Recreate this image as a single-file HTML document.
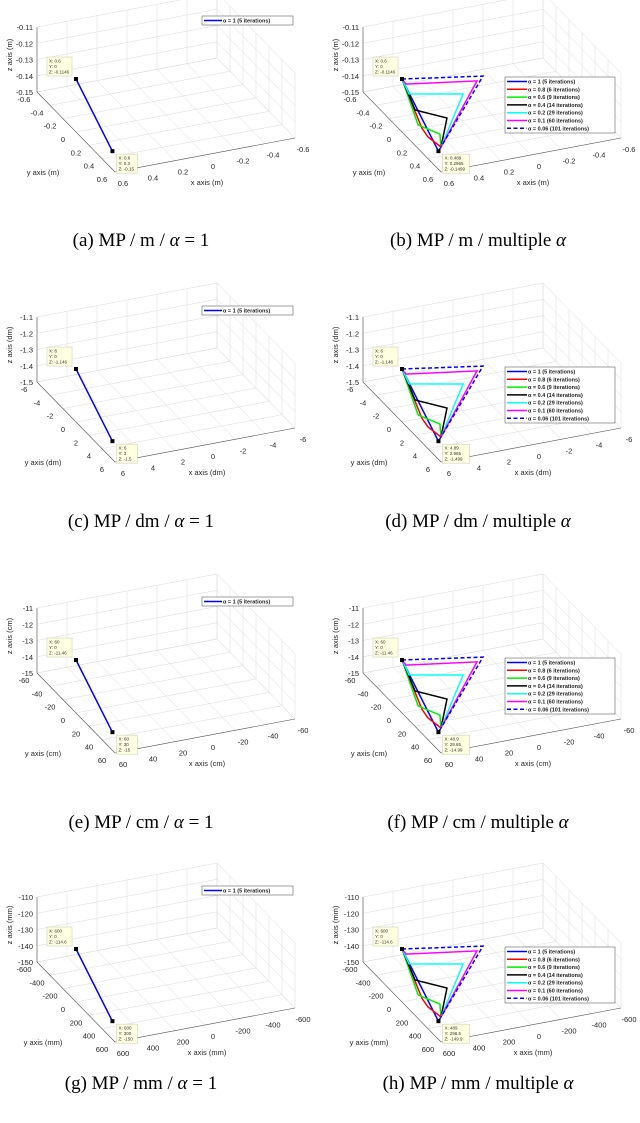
<!DOCTYPE html>
<html><head><meta charset="utf-8">
<style>
html,body{margin:0;padding:0;background:#fff;}
svg{display:block;font-family:"Liberation Sans",sans-serif;}
.cap{font-family:"Liberation Serif",serif;font-size:19px;fill:#000;}
</style></head>
<body>
<svg id="fig" width="640" height="1123" viewBox="0 0 640 1123" xmlns="http://www.w3.org/2000/svg"></svg>
<script>
// ---- data (meters) ----
const units = ["m","m","dm","dm","cm","cm","mm","mm"];
const capPrefix = ["(a) MP / m / ","(b) MP / m / multiple ","(c) MP / dm / ","(d) MP / dm / multiple ","(e) MP / cm / ","(f) MP / cm / multiple ","(g) MP / mm / ","(h) MP / mm / multiple "];
const capSuffix = [" = 1",""," = 1",""," = 1",""," = 1",""];
const multiple = [false,true,false,true,false,true,false,true];
const xTicks = [0.6,0.4,0.2,0,-0.2,-0.4,-0.6];
const yTicks = [-0.6,-0.4,-0.2,0,0.2,0.4,0.6];
const zTicks = [-0.11,-0.12,-0.13,-0.14,-0.15];
const unitScale = {m:1,dm:10,cm:100,mm:1000};
const startPt = [0.6,0,-0.1174];
const endPt = [0.5,0.33,-0.15];
const convPt = [0.483,0.33,-0.1477];
const startTip = {m:["X: 0.6","Y: 0","Z: -0.1146"],dm:["X: 6","Y: 0","Z: -1.146"],cm:["X: 60","Y: 0","Z: -11.46"],mm:["X: 600","Y: 0","Z: -114.6"]};
const endTip1 = {m:["X: 0.6","Y: 0.3","Z: -0.15"],dm:["X: 6","Y: 3","Z: -1.5"],cm:["X: 60","Y: 30","Z: -15"],mm:["X: 600","Y: 300","Z: -150"]};
const endTipM = {m:["X: 0.489","Y: 0.2965","Z: -0.1499"],dm:["X: 4.89","Y: 2.965","Z: -1.499"],cm:["X: 48.9","Y: 29.65","Z: -14.99"],mm:["X: 489","Y: 296.5","Z: -149.9"]};
const seriesNames = ["\u03b1 = 1 (5 iterations)","\u03b1 = 0.8 (6 iterations)","\u03b1 = 0.6 (9 iterations)","\u03b1 = 0.4 (14 iterations)","\u03b1 = 0.2 (29 iterations)","\u03b1 = 0.1 (60 iterations)","\u03b1 = 0.06 (101 iterations)"];
const seriesColors = ["#0000ff","#ff0000","#00ee00","#000000","#00ffff","#ff00ff","#0000ff"];
const sBlue = [startPt,endPt,convPt];
const sRed = [startPt,[0.467,0,-0.15],[0.427,0,-0.156],convPt];
const sGreen = [startPt,[0.493,0,-0.1475],[0.347,0,-0.1557],convPt];
const sBlack = [startPt,[0.513,0,-0.138],[0.3,0,-0.1466],convPt];
const sCyan = [startPt,[0.553,0,-0.1274],[0.193,0,-0.1337],convPt];
const sMagenta = [startPt,[0.573,0,-0.121],[0.1,0,-0.1273],convPt];
const sDashed = [startPt,[0.06,0,-0.125],convPt];
const multiSeries = [sBlue,sRed,sGreen,sBlack,sCyan,sMagenta,sDashed];
const singleSeries = [[startPt,endPt]];
// panel layout
const origins = [[37,92],[363,92],[37,382],[363,382],[37,673],[363,673],[37,962],[363,962]];
const capY = [246,527,828,1089];

const NS="http://www.w3.org/2000/svg";
const svg=document.getElementById('fig');
function mk(tag,attrs,parent){const e=document.createElementNS(NS,tag);for(const k in attrs)e.setAttribute(k,attrs[k]);(parent||svg).appendChild(e);return e;}
function fmt(v,s){let r=Math.round(v*s*1000)/1000;return String(r);}

origins.forEach((o,pi)=>{
  const u=units[pi], sc=unitScale[u];
  const g=mk('g',{});
  
  
  const P=(x,y,z)=>{const a=y+0.6,b=0.6-x,c=z+0.15;return [o[0]+65*a+150*b, o[1]+66.67*a-28.33*b-1625*c];};
  const line=(p,q,st,w,name)=>{const l=mk('line',{x1:p[0],y1:p[1],x2:q[0],y2:q[1],stroke:st,'stroke-width':w},g);return l;};
  const zTop=-0.11;
  const gc='#dadada';
  xTicks.forEach(x=>line(P(x,-0.6,-0.15),P(x,0.6,-0.15),gc,0.5,'grid-line'));
  yTicks.forEach(y=>line(P(0.6,y,-0.15),P(-0.6,y,-0.15),gc,0.5,'grid-line'));
  xTicks.forEach(x=>line(P(x,-0.6,-0.15),P(x,-0.6,zTop),gc,0.5,'grid-line'));
  zTicks.forEach(z=>line(P(0.6,-0.6,z),P(-0.6,-0.6,z),gc,0.5,'grid-line'));
  yTicks.forEach(y=>line(P(-0.6,y,-0.15),P(-0.6,y,zTop),gc,0.5,'grid-line'));
  zTicks.forEach(z=>line(P(-0.6,-0.6,z),P(-0.6,0.6,z),gc,0.5,'grid-line'));
  line(P(0.6,-0.6,-0.15),P(0.6,-0.6,zTop),'#555',0.6,'z-axis');
  line(P(0.6,-0.6,-0.15),P(0.6,0.6,-0.15),'#555',0.6,'y-axis');
  line(P(0.6,0.6,-0.15),P(-0.6,0.6,-0.15),'#555',0.6,'x-axis');
  const txt=(s,x,y,attrs,name)=>{const t=mk('text',Object.assign({x:x,y:y,'font-size':7.5,fill:'#262626'},attrs||{}),g);t.textContent=s;return t;};
  zTicks.forEach(z=>{const p=P(0.6,-0.6,z);txt(fmt(z,sc),p[0]-4,p[1]+3,{'text-anchor':'end'},'z-tick-label');});
  yTicks.forEach(y=>{const p=P(0.6,y,-0.15);txt(fmt(y,sc),p[0]-13,p[1]+10,{'text-anchor':'middle'},'y-tick-label');});
  xTicks.forEach(x=>{const p=P(x,0.6,-0.15);txt(fmt(x,sc),p[0]+8,p[1]+14,{'text-anchor':'middle'},'x-tick-label');});
  txt('z axis ('+u+')',0,0,{'text-anchor':'middle',transform:'translate('+(o[0]-25)+','+(o[1]-37)+') rotate(-90)'},'z-axis-title');
  txt('y axis ('+u+')',o[0]+6,o[1]+83,{'text-anchor':'middle'},'y-axis-title');
  txt('x axis ('+u+')',o[0]+170,o[1]+93,{'text-anchor':'middle'},'x-axis-title');
  const ser=multiple[pi]?multiSeries:singleSeries;
  ser.forEach((pts,si)=>{
    const d=pts.map((p,i)=>{const q=P(p[0],p[1],p[2]);return (i?'L':'M')+q[0].toFixed(1)+' '+q[1].toFixed(1);}).join(' ');
    const ln=mk('path',{d:d,fill:'none',stroke:seriesColors[si],'stroke-width':1.5,'stroke-linejoin':'miter'},g);
    if(si===6) ln.setAttribute('stroke-dasharray','4 2.5');
    
    
  });
  const s=P(...startPt), e=P(...endPt);
  [s,e].forEach(p=>{const r=mk('rect',{x:p[0]-2,y:p[1]-2,width:4,height:4,fill:'#000'},g);});
  const tip=(x,y,w,lines,name)=>{const tg=mk('g',{},g);
    mk('rect',{x:x,y:y,width:w,height:19,fill:'#ffffe1',stroke:'#c8c8b0','stroke-width':0.5},tg);
    lines.forEach((l,i)=>{const t=mk('text',{x:x+2,y:y+5.5+i*5.5,'font-size':4.5,fill:'#333'},tg);t.textContent=l;});};
  tip(s[0]-29,s[1]-22,25,startTip[u],'datatip-start');
  if(multiple[pi]) tip(e[0]+4,e[1]+3,27,endTipM[u],'datatip-end'); else tip(e[0]+4,e[1]+3,21,endTip1[u],'datatip-end');
  const lg=mk('g',{},g);
  
  
  if(!multiple[pi]){
    mk('rect',{x:o[0]+165,y:o[1]-76,width:91,height:9,fill:'#fff',stroke:'#444','stroke-width':0.5},lg);
    mk('line',{x1:o[0]+167,y1:o[1]-71.5,x2:o[0]+185,y2:o[1]-71.5,stroke:'#0000ff','stroke-width':1.5},lg);
    const t=mk('text',{x:o[0]+186,y:o[1]-69.5,'font-size':5.5,'font-weight':'bold',fill:'#222'},lg);t.textContent=seriesNames[0];
    
    
  } else {
    mk('rect',{x:o[0]+142,y:o[1]-15,width:110,height:56,fill:'#fff',stroke:'#444','stroke-width':0.5},lg);
    seriesNames.forEach((n,i)=>{const yy=o[1]-10.5+i*7.8;
      const sl=mk('line',{x1:o[0]+144,y1:yy,x2:o[0]+164,y2:yy,stroke:seriesColors[i],'stroke-width':1.5},lg);
      if(i===6) sl.setAttribute('stroke-dasharray','4 2.5');
      const t=mk('text',{x:o[0]+165,y:yy+2,'font-size':5.5,'font-weight':'bold',fill:'#222'},lg);t.textContent=n;
      
      
    });
  }
  const cx = pi%2===0 ? 141 : 478;
  const c=mk('text',{x:cx,y:capY[Math.floor(pi/2)],'text-anchor':'middle',class:'cap'});
  
  
  const t1=mk('tspan',{},c); t1.textContent=capPrefix[pi];
  const t2=mk('tspan',{'font-style':'italic'},c); t2.textContent='\u03b1';
  const t3=mk('tspan',{},c); t3.textContent=capSuffix[pi];
});
</script>
</body></html>
